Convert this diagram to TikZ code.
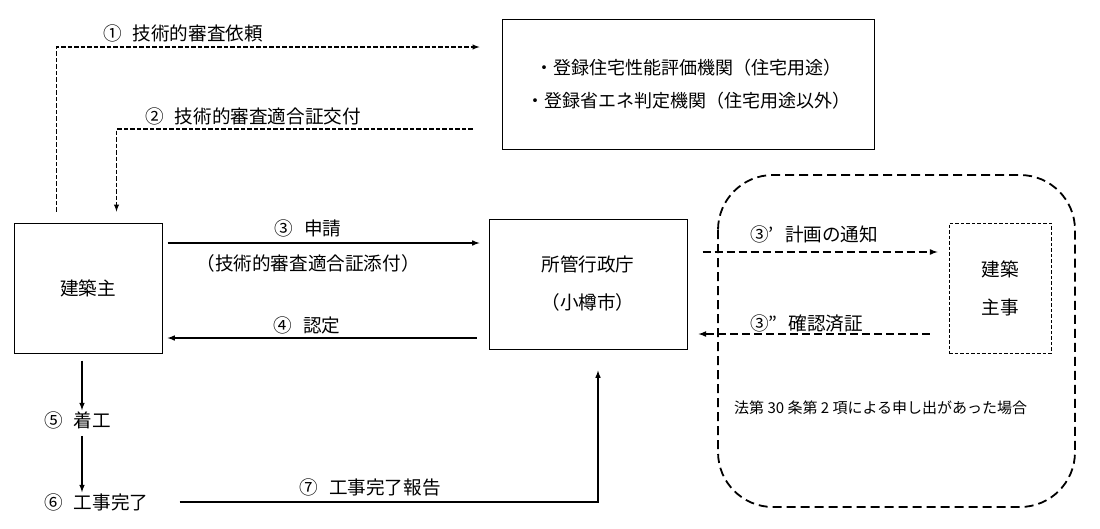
\documentclass[tikz,border=0pt]{standalone}
\usepackage{fontspec}
\setmainfont{Noto Sans CJK JP}
\usetikzlibrary{arrows,calc,positioning}
\newcommand{\numgap}{\hspace{0.6em}}

\begin{document}
\begin{tikzpicture}[
  x=1pt, y=-1pt,
  > = latex,
  every node/.style = {font=\fontsize{18.6}{33}\selectfont, inner sep=1pt},
  box/.style = {draw, line width=1pt, align=center},
  flow/.style = {line width=1.5pt},
  req/.style = {line width=1.4pt, dash pattern=on 4.5pt off 2pt},
  notice/.style = {line width=1.6pt, dash pattern=on 8pt off 4pt},
  area/.style = {line width=1.8pt, dash pattern=on 9pt off 5pt, rounded corners=55pt}
  ]
	\path[fill=white] (0,0) rectangle (1100,528);

	% boxes
	\node[box, minimum width=148pt, minimum height=130pt] (owner) at (88,288) {建築主};
	\node[box, minimum width=198pt, minimum height=130pt, font=\fontsize{18.6}{38}\selectfont] (office) at (588,284) {所管行政庁\\（小樽市）};
	\node[box, minimum width=372pt, minimum height=130pt, font=\fontsize{18}{33}\selectfont] (agency) at (688,84) {・登録住宅性能評価機関（住宅用途）\\・登録省エネ判定機関（住宅用途以外）};
	\node[box, line width=0.9pt, dash pattern=on 3.5pt off 2pt, minimum width=102pt, minimum height=130pt, font=\fontsize{18.6}{38}\selectfont] (shuji) at (1000,288) {建築\\主事};

	\draw[area] (718,175) rectangle (1075,507);
	\node[anchor=west, font=\fontsize{15}{18}\selectfont] (note) at (733,408) {法第 30 条第 2 項による申し出があった場合};

	% steps below the owner
	\node[anchor=west] (start) at (43,420) {⑤\numgap 着工};
	\node[anchor=west] (done)  at (43,502) {⑥\numgap 工事完了};

	% labels
	\node (l1) at (183,33)  {①\numgap 技術的審査依頼};
	\node (l2) at (253,116) {②\numgap 技術的審査適合証交付};
	\node (l3) at (308,228) {③\numgap 申請};
	\node (l3b) at (308,263) {（技術的審査適合証添付）};
	\node (l4) at (307,325) {④\numgap 認定};
	\node[anchor=west] (l3p)  at (749,234) {③’\numgap 計画の通知};
	\node[anchor=west] (l3pp) at (749,323) {③”\numgap 確認済証};
	\node (l7) at (370,487) {⑦\numgap 工事完了報告};

	% connectors
	\draw[req,->] ($(owner.north west)+(43,-11)$) |- ($(agency.west|-0,47)+(-22,0)$);
	\draw[req,->] ($(agency.west|-0,129)+(-29,0)$) -| ($(owner.north west)+(103,-11)$);

	\draw[flow,->] ($(owner.east|-0,243)+(5,0)$) -- ($(office.west|-0,243)+(-9,0)$);
	\draw[flow,->] ($(office.west|-0,338)+(-12,0)$) -- ($(owner.east|-0,338)+(5,0)$);

	\draw[notice,->] ($(office.east|-0,252)+(15,0)$) -- ($(shuji.west|-0,252)+(-11,0)$);
	\draw[notice,->] ($(shuji.west|-0,334)+(-19,0)$) -- ($(office.east|-0,334)+(11,0)$);

	\coordinate (s5) at ($(owner.south)+(-6,7)$);
	\draw[flow,->] (s5) -- (s5 |- start.north);
	\draw[flow,->] ($(s5 |- start.south)+(0,6)$) -- (s5 |- done.north);
	\draw[flow,->] ($(done.east)+(30,0)$) -| ($(office.south)+(10,21)$);

\end{tikzpicture}
\end{document}
